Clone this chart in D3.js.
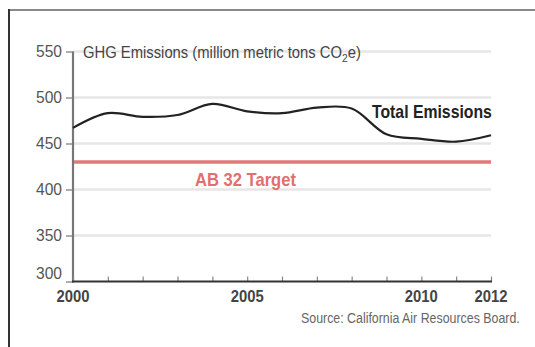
<!DOCTYPE html>
<html><head><meta charset="utf-8">
<script src="https://cdn.jsdelivr.net/npm/d3@7"></script>
<style>
html,body{margin:0;padding:0;background:#fff;}
svg{display:block;}
text{font-family:"Liberation Sans","Arial",sans-serif;}
</style></head>
<body>
<svg id="c" width="535" height="347"></svg>
<script>
const years = [2000,2001,2002,2003,2004,2005,2006,2007,2008,2009,2010,2011,2012];
const emissions = [467,483,479,481,493,485,483,489,488,460,455,452,459];
const target = 430;
const yTicks = [300,350,400,450,500,550];
const xTickLabels = [2000,2005,2010,2012];

const svg = d3.select("#c");
const x = d3.scaleLinear().domain([2000,2012]).range([73,491]);
const y = d3.scaleLinear().domain([300,550]).range([281.5,51.5]);

// horizontally condense a text node to a target width, anchored per text-anchor
function fit(node, w) {
  const bb = node.getBBox();
  const k = w / bb.width;
  const anchor = node.getAttribute("text-anchor") || "start";
  const ax = anchor === "end" ? bb.x + bb.width : anchor === "middle" ? bb.x + bb.width/2 : bb.x;
  node.setAttribute("transform", `translate(${ax},0) scale(${k},1) translate(${-ax},0)`);
}

// frame
svg.append("line").attr("x1",9).attr("x2",535).attr("y1",10).attr("y2",10).attr("stroke","#8a8a8a").attr("stroke-width",2);
svg.append("line").attr("x1",9).attr("x2",9).attr("y1",9).attr("y2",347).attr("stroke","#333").attr("stroke-width",2);

// gridlines
svg.append("g").selectAll("line").data(yTicks.filter(d=>d>300)).join("line")
  .attr("x1",x(2000)).attr("x2",x(2012)).attr("y1",d=>y(d)).attr("y2",d=>y(d))
  .attr("stroke","#e6e6e6").attr("stroke-width",2.5);

// y axis
const yAxis = d3.axisLeft(y).tickValues(yTicks).tickSize(7).tickPadding(4);
const gy = svg.append("g").attr("transform",`translate(${x(2000)},0)`).call(yAxis);
gy.select(".domain").remove();
gy.selectAll(".tick line").attr("stroke","#777").attr("stroke-width",1.2);
gy.selectAll(".tick text").attr("fill","#555").attr("font-size",17).attr("font-family",null);
gy.selectAll(".tick").filter(d=>d===300).select("text").attr("dy","-0.15em");
gy.selectAll(".tick text").each(function(){ this.setAttribute("text-anchor","end"); fit(this, 26); });
svg.append("line").attr("x1",x(2000)).attr("x2",x(2000)).attr("y1",y(550)).attr("y2",y(300)+1)
  .attr("stroke","#777").attr("stroke-width",2.2);

// x axis
const xAxis = d3.axisTop(x).tickValues(years).tickSize(5).tickFormat("");
const gx = svg.append("g").attr("transform",`translate(0,${y(300)})`).call(xAxis);
gx.select(".domain").remove();
gx.selectAll(".tick line").attr("stroke","#888").attr("stroke-width",1.2);
svg.append("line").attr("x1",x(2000)-1).attr("x2",x(2012)+1).attr("y1",y(300)).attr("y2",y(300))
  .attr("stroke","#333").attr("stroke-width",2.2);
svg.append("g").selectAll("text").data(xTickLabels).join("text")
  .attr("x",d=>x(d)).attr("y",302).attr("text-anchor","middle")
  .attr("fill","#444").attr("font-size",17).attr("font-weight","bold").text(d=>d)
  .each(function(){ fit(this, 33); });

// target line
svg.append("line").attr("x1",x(2000)+1).attr("x2",x(2012)).attr("y1",y(target)).attr("y2",y(target))
  .attr("stroke","#e07a7a").attr("stroke-width",3.5);

// emissions line
const line = d3.line().x((d,i)=>x(years[i])).y(d=>y(d)).curve(d3.curveCatmullRom.alpha(0.5));
svg.append("path").datum(emissions).attr("d",line).attr("fill","none")
  .attr("stroke","#222").attr("stroke-width",2.2);

// texts
const title = svg.append("text").attr("x",83).attr("y",58).attr("fill","#444").attr("font-size",16);
title.append("tspan").text("GHG Emissions (million metric tons CO");
title.append("tspan").attr("font-size",11).attr("dy",4).text("2");
title.append("tspan").attr("dy",-4).text("e)");
fit(title.node(), 278);

svg.append("text").attr("x",372).attr("y",118).attr("fill","#222").attr("font-size",18)
  .attr("font-weight","bold").text("Total Emissions").each(function(){ fit(this, 120); });
svg.append("text").attr("x",195).attr("y",186).attr("fill","#e07070").attr("font-size",18)
  .attr("font-weight","bold").text("AB 32 Target").each(function(){ fit(this, 101); });
svg.append("text").attr("x",301).attr("y",323).attr("fill","#666").attr("font-size",14)
  .text("Source: California Air Resources Board.").each(function(){ fit(this, 219); });
</script>
</body></html>
